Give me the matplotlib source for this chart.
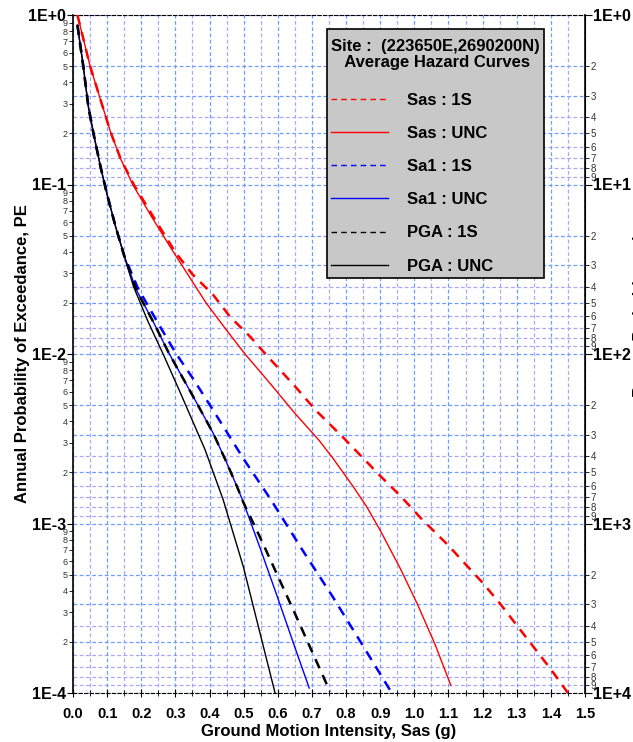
import numpy as np
import matplotlib
matplotlib.use("Agg")
from matplotlib import pyplot as plt
from matplotlib.ticker import LogLocator, FuncFormatter, MultipleLocator
from matplotlib.offsetbox import VPacker, DrawingArea

plt.rcParams["font.family"] = ["Liberation Sans", "DejaVu Sans"]

# Sas : 1S (red dashed)
sas_1s_x = [0.013, 0.05, 0.09, 0.11, 0.14, 0.178, 0.235, 0.30, 0.35, 0.41, 0.46, 0.52, 0.56,
            0.60, 0.65, 0.71, 0.79, 0.85, 0.90, 0.96, 1.02, 1.05, 1.10, 1.15, 1.20, 1.25,
            1.30, 1.35, 1.40, 1.45]
sas_1s_pe = [1.0, 0.50, 0.275, 0.204, 0.141, 0.100, 0.0646, 0.0398, 0.0295, 0.0224, 0.0166,
             0.0126, 0.0102, 0.00832, 0.00646, 0.00468, 0.00324, 0.00243, 0.00191, 0.00145,
             0.00107, 0.000933, 0.000741, 0.000575, 0.000447, 0.000339, 0.000251, 0.000186,
             0.000138, 0.0001]

# Sas : UNC (red solid)
sas_unc_x = [0.013, 0.05, 0.09, 0.11, 0.14, 0.175, 0.23, 0.29, 0.39, 0.45, 0.504, 0.58, 0.65,
             0.72, 0.76, 0.82, 0.86, 0.90, 0.96, 1.01, 1.06, 1.107]
sas_unc_pe = [1.0, 0.50, 0.275, 0.204, 0.141, 0.100, 0.0646, 0.0412, 0.0200, 0.0138, 0.0100,
              0.00661, 0.00447, 0.00311, 0.00245, 0.00166, 0.00126, 0.000912, 0.000537,
              0.000331, 0.000195, 0.000111]

# shared start of the Sa1 / PGA curves
start_x = [0.013, 0.03, 0.045, 0.06, 0.08, 0.10, 0.125, 0.15]
start_pe = [0.871, 0.501, 0.288, 0.200, 0.129, 0.0871, 0.0562, 0.0380]

# Sa1 : 1S (blue dashed)
sa1_1s_x = start_x + [0.19, 0.25, 0.30, 0.35, 0.41, 0.50, 0.58, 0.67, 0.76, 0.84, 0.934]
sa1_1s_pe = start_pe + [0.0245, 0.0151, 0.0102, 0.00724, 0.00468, 0.00240, 0.00138, 0.000708,
                        0.000372, 0.000204, 0.0001]

# Sa1 : UNC (blue solid)
sa1_unc_x = start_x + [0.185, 0.235, 0.28, 0.313, 0.36, 0.411, 0.45, 0.48, 0.50, 0.55, 0.60,
                       0.65, 0.692]
sa1_unc_pe = start_pe + [0.0240, 0.0155, 0.0102, 0.00776, 0.00525, 0.00340, 0.00229, 0.00166,
                         0.00132, 0.000700, 0.000363, 0.000186, 0.000107]

# PGA : 1S (black dashed)
pga_1s_x = start_x + [0.185, 0.235, 0.28, 0.313, 0.36, 0.411, 0.45, 0.48, 0.50, 0.55, 0.60,
                      0.65, 0.70, 0.753]
pga_1s_pe = start_pe + [0.0240, 0.0155, 0.0102, 0.00776, 0.00525, 0.00340, 0.00229, 0.00166,
                        0.00132, 0.000813, 0.000490, 0.000295, 0.000176, 0.000102]

# PGA : UNC (black solid)
pga_unc_x = start_x + [0.177, 0.22, 0.264, 0.313, 0.387, 0.44, 0.499, 0.592]
pga_unc_pe = start_pe + [0.0251, 0.0155, 0.0100, 0.0060, 0.00272, 0.00138, 0.000556, 0.0001]

fig = plt.figure(figsize=(6.33, 7.42), dpi=100)
ax = fig.add_axes([73/633, 1-693/742, 512/633, 678/742])

gblue = "#6e9cff"
glav = "#a8a8f4"
dash = (0, (4, 3))
gdash = (0, (3, 2))

ax.plot(sas_1s_x, sas_1s_pe, color="red", ls=dash, lw=1.8, label="Sas : 1S", zorder=5)
ax.plot(sas_unc_x, sas_unc_pe, color="red", lw=1.0, label="Sas : UNC", zorder=5)
ax.plot(sa1_1s_x, sa1_1s_pe, color="blue", ls=dash, lw=1.8, label="Sa1 : 1S", zorder=5)
ax.plot(sa1_unc_x, sa1_unc_pe, color="blue", lw=1.0, label="Sa1 : UNC", zorder=5)
ax.plot(pga_1s_x, pga_1s_pe, color="black", ls=dash, lw=1.8, label="PGA : 1S", zorder=5)
ax.plot(pga_unc_x, pga_unc_pe, color="black", lw=1.0, label="PGA : UNC", zorder=5)

ax.set_yscale("log")
ax.set_ylim(1e-4, 1)
ax.set_xlim(0, 1.5)

def decade_label(v, p):
    return f"1E{int(round(np.log10(v))):+d}"

def digit_label(v, p):
    return f"{int(round(v / 10**np.floor(np.log10(v) + 1e-9)))}"

ax.xaxis.set_major_locator(MultipleLocator(0.1))
ax.xaxis.set_minor_locator(MultipleLocator(0.05))
ax.xaxis.set_major_formatter(FuncFormatter(lambda v, p: f"{v:.1f}"))
ax.yaxis.set_major_locator(LogLocator(base=10, numticks=10))
ax.yaxis.set_minor_locator(LogLocator(base=10, subs=np.arange(2, 10), numticks=10))
ax.yaxis.set_major_formatter(FuncFormatter(decade_label))
ax.yaxis.set_minor_formatter(FuncFormatter(digit_label))

ax.tick_params(axis="x", which="major", labelsize=10.5, direction="inout", length=6, pad=7)
ax.tick_params(axis="x", which="minor", direction="inout", length=4)
ax.tick_params(axis="y", which="major", labelsize=11.5, length=4, pad=1)
ax.tick_params(axis="y", which="minor", labelsize=6.5, length=3, pad=1, labelcolor="#333333")
for lab in ax.get_yticklabels() + ax.get_xticklabels():
    lab.set_fontweight("bold")

ax.grid(True, which="major", axis="both", color=gblue, ls=gdash, lw=0.9)
ax.grid(True, which="minor", axis="x", color=glav, ls=gdash, lw=0.9)

ax.spines["top"].set_linestyle(gdash)
ax.spines["bottom"].set_linestyle(gdash)
ax.spines["left"].set_linewidth(1.2)

# return period axis on the right
ax2 = ax.twinx()
ax2.set_yscale("log")
ax2.set_ylim(1e4, 1)
ax2.yaxis.set_major_locator(LogLocator(base=10, numticks=10))
ax2.yaxis.set_minor_locator(LogLocator(base=10, subs=np.arange(2, 10), numticks=10))
ax2.yaxis.set_major_formatter(FuncFormatter(decade_label))
ax2.yaxis.set_minor_formatter(FuncFormatter(digit_label))
ax2.tick_params(axis="y", which="major", labelsize=11.5, length=5, pad=1)
ax2.tick_params(axis="y", which="minor", labelsize=7, length=3, pad=1, labelcolor="#333333")
for lab in ax2.get_yticklabels():
    lab.set_fontweight("bold")
ax2.spines["right"].set_linewidth(1.2)
for s in ["top", "bottom", "left"]:
    ax2.spines[s].set_visible(False)

# horizontal grid follows the return period ticks
decades = [1, 10, 100, 1000]
for d in decades:
    for k in range(2, 10):
        col = gblue if k in (2, 3, 5) else glav
        ax2.axhline(d * k, color=col, ls=gdash, lw=0.9, zorder=0)

ax.set_zorder(ax2.get_zorder() + 1)
ax.patch.set_visible(False)

ax.set_xlabel("Ground Motion Intensity, Sas (g)", fontsize=12, fontweight="bold", labelpad=2)
ax.set_ylabel("Annual Probability of Exceedance, PE", fontsize=12, fontweight="bold")
ax.yaxis.set_label_coords(-0.084, 0.5)
fig.text(1.0, 0.575, "Return Period (years)", rotation=90, fontsize=11.5, fontweight="bold",
         ha="left", va="center")

leg = ax.legend(loc="upper left", bbox_to_anchor=(254/512, 664/678), borderaxespad=0,
                title="Site :  (223650E,2690200N)\n   Average Hazard Curves",
                fontsize=12, handlelength=3.4, handletextpad=1.14, labelspacing=1.09,
                borderpad=0.25, fancybox=False, framealpha=1, facecolor="#c8c8c8",
                edgecolor="black", alignment="left")
leg.get_title().set_fontweight("bold")
leg.get_title().set_fontsize(12)
leg.get_title().set_linespacing(1.08)
leg.get_frame().set_linewidth(1.2)
# a little extra room above the title and below it
title_box = VPacker(pad=0, sep=0, align="left",
                    children=[DrawingArea(1, 4), leg._legend_title_box])
leg._legend_box._children[0] = title_box
leg._legend_box.sep = leg._legend_box.sep + 3.5
for t in leg.get_texts():
    t.set_fontweight("bold")
for h in leg.get_lines():
    h.set_linewidth(1.0)

fig.savefig("out.png", dpi=100, facecolor="white")
